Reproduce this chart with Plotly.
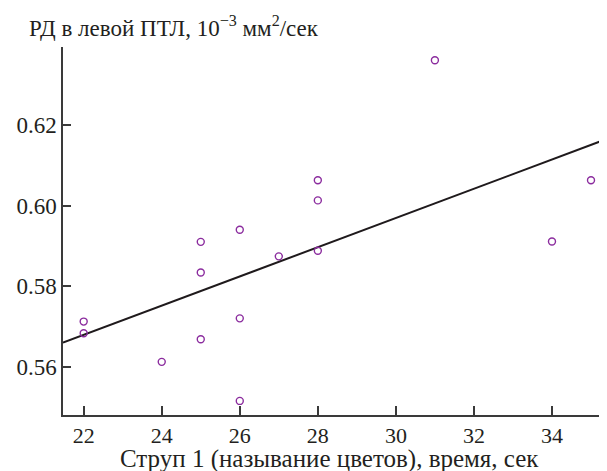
import numpy as np
import plotly.graph_objects as go

# Data
stroop_time = [22, 22, 24, 25, 25, 25, 26, 26, 26, 27, 28, 28, 28, 31, 34, 35]
rd_left_ptl = [0.5712, 0.5683, 0.5612, 0.5834, 0.5668, 0.5910, 0.5940, 0.5720,
               0.5515, 0.5874, 0.6063, 0.6013, 0.5888, 0.6361, 0.5911, 0.6063]

x_range = [21.47, 35.41]
y_range = [0.548, 0.6394]

x_tick_vals = [22, 24, 26, 28, 30, 32, 34]
y_tick_vals = [0.56, 0.58, 0.60, 0.62]

# Linear regression line
slope, intercept = np.polyfit(stroop_time, rd_left_ptl, 1)
line_x = np.array(x_range)
line_y = slope * line_x + intercept

font_family = "Liberation Serif, Times New Roman, serif"
axis_color = "#3a3a3a"
text_color = "#231f20"

fig = go.Figure()
fig.add_trace(go.Scatter(
    x=line_x, y=line_y, mode="lines",
    line=dict(color="#1f1a1c", width=2),
    hoverinfo="skip", showlegend=False,
))
fig.add_trace(go.Scatter(
    x=stroop_time, y=rd_left_ptl, mode="markers",
    marker=dict(symbol="circle-open", size=7, color="#8B2C9E",
                line=dict(width=1.4, color="#8B2C9E")),
    showlegend=False,
))

# page body has an 8px margin, so the figure is sized to fit the window
fig.update_layout(
    width=599, height=463,
    margin=dict(l=55, r=0, t=39, b=56),
    paper_bgcolor="white", plot_bgcolor="white",
    font=dict(family=font_family, size=23, color=text_color),
    xaxis=dict(
        range=x_range, tickvals=x_tick_vals, ticks="inside", ticklen=9,
        tickwidth=1.5, tickcolor=axis_color, showline=True, linewidth=1.5,
        linecolor=axis_color, showgrid=False, zeroline=False,
        tickfont=dict(family=font_family, size=22, color=text_color),
    ),
    yaxis=dict(
        range=y_range, tickvals=y_tick_vals, tickformat=".2f", ticks="inside",
        ticklen=8, tickwidth=1.5, tickcolor=axis_color, showline=True,
        linewidth=1.5, linecolor=axis_color, showgrid=False, zeroline=False,
        tickfont=dict(family=font_family, size=23, color=text_color),
    ),
    annotations=[
        dict(
            text="РД в левой ПТЛ, 10<sup>−3</sup> мм<sup>2</sup>/сек",
            xref="paper", yref="paper", x=-0.066, y=1.057,
            xanchor="left", yanchor="middle", showarrow=False,
            font=dict(family=font_family, size=23, color=text_color),
        ),
        dict(
            text="Струп 1 (называние цветов), время, сек",
            xref="paper", yref="paper", x=0.489, y=-0.12,
            xanchor="center", yanchor="middle", showarrow=False,
            font=dict(family=font_family, size=25, color=text_color),
        ),
    ],
)

fig.write_html("out.html")
